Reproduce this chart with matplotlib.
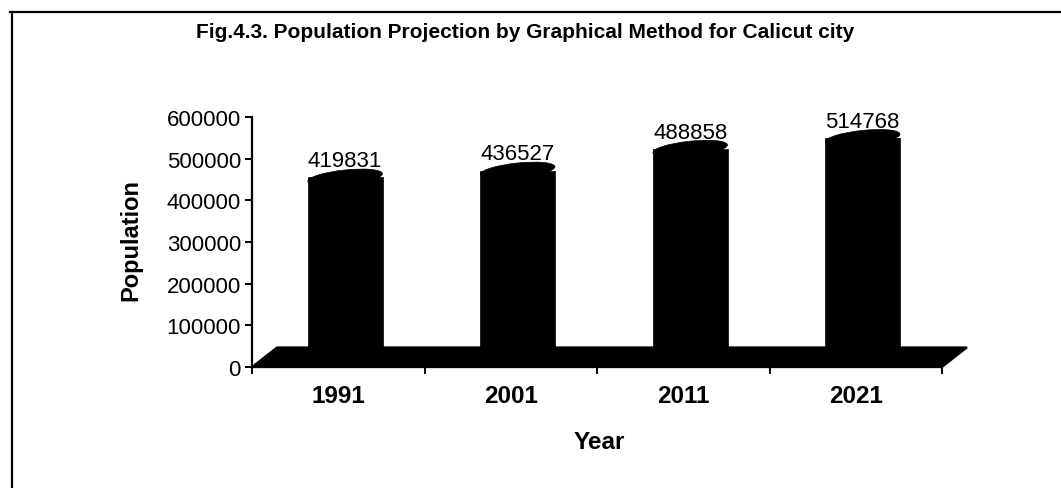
import matplotlib
matplotlib.use("Agg")
import matplotlib.pyplot as plt
from matplotlib.patches import Ellipse, Polygon
from matplotlib.transforms import ScaledTranslation
from matplotlib.lines import Line2D

plt.rcParams['font.family'] = ['Liberation Sans', 'DejaVu Sans']

years = ["1991", "2001", "2011", "2021"]
population = [419831, 436527, 488858, 514768]
y_ticks = [0, 100000, 200000, 300000, 400000, 500000, 600000]

W, H = 1061, 489
fig = plt.figure(figsize=(W / 100, H / 100), dpi=100)
L, R, B, T = 252, 942, 368, 118
ax = fig.add_axes([L / W, (H - B) / H, (R - L) / W, (B - T) / H])
ax.set_xlim(0, len(years))
ax.set_ylim(0, 600000)

# floor of the 3-D chart
depth_x, depth_y = 0.145, 47000
floor = Polygon([(0, 0), (len(years), 0), (len(years) + depth_x, depth_y), (depth_x, depth_y)],
                closed=True, facecolor='black', edgecolor='black', lw=1.5, clip_on=False, zorder=2)
ax.add_patch(floor)

# cylinders
bw = 0.435
cx = [i + 0.5 + 0.04 for i in range(len(years))]
cap_shift = 35000
body_tops = [v + cap_shift for v in population]
ax.bar(cx, body_tops, width=bw, color='black', edgecolor='black', lw=0.5, zorder=3, clip_on=False)
for x, v in zip(cx, population):
    tr = fig.dpi_scale_trans + ScaledTranslation(x, v + cap_shift, ax.transData)
    e = Ellipse((0, 0), width=0.75, height=0.15, angle=6, transform=tr,
                facecolor='black', edgecolor='black', lw=0.5, clip_on=False, zorder=3)
    ax.add_patch(e)
    ax.annotate(f"{v}", xy=(x, v), xytext=(0, 22.5), textcoords='offset points',
                ha='center', va='center', fontsize=16, color='black', zorder=4)

# axes styling
for s in ['top', 'right']:
    ax.spines[s].set_visible(False)
ax.spines['left'].set_linewidth(1.6)
ax.spines['bottom'].set_linewidth(1.6)
ax.set_yticks(y_ticks)
ax.set_yticklabels([str(t) for t in y_ticks], fontsize=16)
ax.tick_params(axis='y', direction='out', length=5, width=1.4, pad=3)
ax.set_xticks(range(len(years) + 1))
ax.set_xticklabels([])
ax.tick_params(axis='x', which='major', direction='out', length=5, width=1.4)
ax.set_xticks([i + 0.5 for i in range(len(years))], minor=True)
ax.set_xticklabels(years, minor=True, fontsize=17.5, fontweight='bold')
ax.tick_params(axis='x', which='minor', length=0, pad=12)

ax.set_xlabel("Year", fontsize=17.5, fontweight='bold')
ax.xaxis.set_label_coords(0.503, -0.30)
ax.xaxis.label.set_va('center')
ax.set_ylabel("Population", fontsize=17, fontweight='bold')
ax.yaxis.set_label_coords((131 - L) / (R - L), (B - 240) / (B - T))
ax.yaxis.label.set_va('center')

fig.text(525 / W, 1 - 33 / H, "Fig.4.3. Population Projection by Graphical Method for Calicut city",
         ha='center', va='center', fontsize=15, fontweight='bold')

# scanned page frame
fig.add_artist(Line2D([12 / W, 12 / W], [0, 1 - 13 / H], transform=fig.transFigure, color='black', lw=1.6))
fig.add_artist(Line2D([10 / W, 1], [1 - 13 / H, 1 - 13 / H], transform=fig.transFigure, color='black', lw=1.6))

fig.savefig("out.png", dpi=100)
